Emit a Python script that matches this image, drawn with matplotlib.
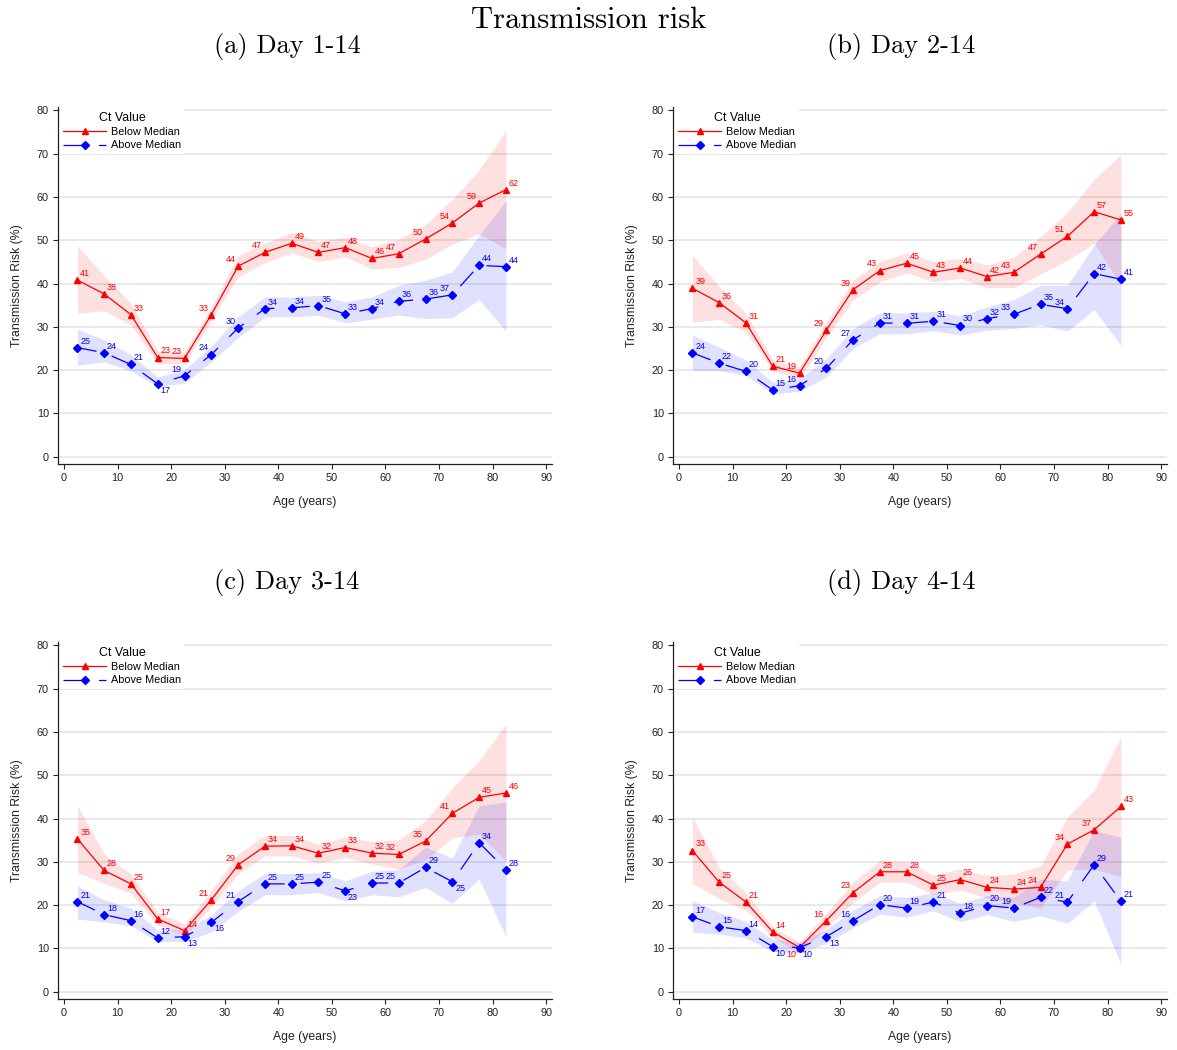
import matplotlib
matplotlib.use("Agg")
import matplotlib.pyplot as plt

plt.rcParams["font.family"] = ["Liberation Sans", "DejaVu Sans"]
plt.rcParams["lines.scale_dashes"] = False

age = [2.5, 7.5, 12.5, 17.5, 22.5, 27.5, 32.5, 37.5, 42.5, 47.5, 52.5, 57.5, 62.5, 67.5, 72.5, 77.5, 82.5]

# ---------------- (a) Day 1-14 ----------------
a_below = [40.8, 37.6, 32.8, 22.9, 22.7, 32.8, 44.0, 47.2, 49.3, 47.2, 48.3, 45.8, 46.9, 50.3, 54.0, 58.6, 61.7]
a_below_lo = [33.1, 33.7, 30.4, 21.5, 21.5, 31.4, 41.6, 44.8, 47.1, 45.1, 46.2, 43.4, 43.7, 45.6, 49.1, 51.5, 48.0]
a_below_hi = [48.8, 41.8, 35.4, 24.4, 24.2, 34.5, 46.4, 49.3, 51.8, 49.7, 50.7, 48.5, 50.3, 53.6, 59.4, 66.3, 75.3]
a_above = [25.2, 24.0, 21.3, 16.8, 18.7, 23.6, 29.7, 34.2, 34.4, 34.9, 33.0, 34.2, 35.9, 36.4, 37.4, 44.2, 43.9]
a_above_lo = [21.1, 21.9, 19.8, 16.2, 17.0, 21.9, 27.5, 32.3, 32.3, 32.7, 30.9, 31.8, 32.7, 31.9, 32.1, 36.3, 29.0]
a_above_hi = [29.4, 27.0, 23.6, 18.4, 20.1, 25.5, 32.3, 36.9, 36.9, 37.3, 35.8, 36.9, 39.6, 40.8, 42.7, 51.2, 59.1]
a_below_pos = ["r", "r", "r", "r", "l", "l", "l", "l", "r", "r", "r", "r", "l", "l", "l", "l", "r"]
a_above_pos = ["r", "r", "r", "br", "l", "l", "l", "r", "r", "r", "r", "r", "r", "r", "l", "r", "r"]

# ---------------- (b) Day 2-14 ----------------
b_below = [38.9, 35.6, 30.9, 20.9, 19.3, 29.2, 38.6, 43.0, 44.7, 42.6, 43.6, 41.6, 42.6, 46.8, 50.9, 56.6, 54.7]
b_below_lo = [31.1, 31.7, 28.8, 19.8, 18.0, 27.5, 36.2, 40.4, 42.5, 40.4, 41.2, 39.0, 39.1, 42.2, 45.4, 49.3, 39.6]
b_below_hi = [46.6, 39.3, 33.1, 22.3, 20.7, 31.1, 40.8, 45.1, 47.1, 45.1, 45.8, 44.3, 46.1, 50.9, 56.4, 64.1, 69.8]
b_above = [24.0, 21.6, 19.7, 15.4, 16.4, 20.4, 27.0, 30.9, 30.8, 31.3, 30.3, 31.9, 32.9, 35.2, 34.2, 42.3, 41.0]
b_above_lo = [19.9, 19.9, 18.8, 14.5, 15.1, 18.4, 25.0, 28.4, 28.4, 29.1, 28.1, 29.2, 29.6, 30.5, 29.0, 34.0, 25.7]
b_above_hi = [28.1, 25.3, 22.3, 17.2, 18.0, 22.6, 29.6, 33.2, 33.2, 33.6, 32.5, 34.6, 36.3, 39.6, 39.6, 48.9, 56.3]
b_below_pos = ["r", "r", "r", "r", "l", "l", "l", "l", "r", "r", "r", "r", "l", "l", "l", "r", "r"]
b_above_pos = ["r", "r", "r", "r", "l", "l", "l", "r", "r", "r", "r", "r", "l", "r", "l", "r", "r"]

# ---------------- (c) Day 3-14 ----------------
c_below = [35.3, 28.0, 24.9, 16.8, 14.1, 21.2, 29.3, 33.6, 33.7, 32.0, 33.3, 32.0, 31.7, 34.8, 41.2, 44.9, 45.9]
c_below_lo = [27.6, 25.0, 22.7, 15.4, 12.9, 19.5, 27.2, 31.4, 31.4, 29.7, 31.0, 29.5, 28.3, 30.5, 35.5, 36.4, 30.3]
c_below_hi = [43.0, 31.8, 27.2, 18.3, 15.6, 23.3, 31.8, 36.1, 36.1, 34.1, 35.7, 34.7, 35.1, 39.5, 47.1, 53.4, 61.9]
c_above = [20.8, 17.8, 16.4, 12.4, 12.7, 16.0, 20.8, 24.9, 24.9, 25.3, 23.3, 25.1, 25.1, 28.7, 25.4, 34.4, 28.2]
c_above_lo = [16.8, 16.1, 15.2, 11.6, 11.6, 13.8, 18.5, 22.4, 22.4, 22.9, 21.0, 22.4, 21.9, 24.1, 20.4, 26.0, 12.7]
c_above_hi = [24.5, 21.2, 19.3, 14.2, 14.4, 17.7, 23.3, 27.3, 27.3, 27.5, 25.6, 27.8, 28.2, 33.4, 30.9, 43.0, 43.8]
c_below_pos = ["r", "r", "r", "r", "r", "l", "l", "r", "r", "r", "r", "r", "l", "l", "l", "r", "r"]
c_above_pos = ["r", "r", "r", "r", "br", "br", "l", "r", "r", "r", "br", "r", "l", "r", "br", "r", "r"]

# ---------------- (d) Day 4-14 ----------------
d_below = [32.6, 25.3, 20.7, 13.8, 10.2, 16.4, 22.9, 27.7, 27.7, 24.6, 25.9, 24.1, 23.7, 24.1, 34.1, 37.4, 42.8]
d_below_lo = [25.0, 21.5, 18.8, 12.4, 9.0, 14.7, 20.6, 25.3, 25.3, 22.4, 23.5, 21.6, 20.6, 19.3, 28.1, 28.3, 26.6]
d_below_hi = [40.3, 28.7, 22.9, 14.9, 11.4, 18.1, 25.3, 30.3, 30.0, 27.0, 28.3, 26.8, 27.2, 29.1, 40.3, 46.6, 59.0]
d_above = [17.3, 15.0, 14.1, 10.4, 10.2, 12.7, 16.4, 20.1, 19.3, 20.7, 18.1, 19.9, 19.3, 21.8, 20.7, 29.3, 20.9]
d_above_lo = [13.7, 13.3, 12.4, 9.3, 9.0, 11.1, 14.8, 17.9, 17.2, 18.7, 16.2, 17.8, 16.2, 17.5, 15.8, 21.0, 6.3]
d_above_hi = [21.0, 18.3, 16.2, 12.1, 11.4, 14.4, 18.8, 22.2, 21.8, 22.9, 20.4, 22.2, 21.8, 26.0, 25.6, 37.2, 35.7]
d_below_pos = ["r", "r", "r", "r", "bl", "l", "l", "r", "r", "r", "r", "r", "r", "l", "l", "l", "r"]
d_above_pos = ["r", "r", "r", "br", "br", "br", "l", "r", "r", "r", "r", "r", "l", "r", "l", "r", "r"]

panel_titles = ["(a) Day 1-14", "(b) Day 2-14", "(c) Day 3-14", "(d) Day 4-14"]
suptitle = "Transmission risk"
legend_title = "Ct Value"
series_names = ["Below Median", "Above Median"]
xticks = [0, 10, 20, 30, 40, 50, 60, 70, 80, 90]
yticks = [0, 10, 20, 30, 40, 50, 60, 70, 80]

panels = [
    (a_below, a_below_lo, a_below_hi, a_above, a_above_lo, a_above_hi, a_below_pos, a_above_pos),
    (b_below, b_below_lo, b_below_hi, b_above, b_above_lo, b_above_hi, b_below_pos, b_above_pos),
    (c_below, c_below_lo, c_below_hi, c_above, c_above_lo, c_above_hi, c_below_pos, c_above_pos),
    (d_below, d_below_lo, d_below_hi, d_above, d_above_lo, d_above_hi, d_below_pos, d_above_pos),
]

W, H = 1177, 1050
fig = plt.figure(figsize=(W / 100, H / 100), dpi=100)

ax_px = [(58, 107), (673, 107), (58, 642), (673, 642)]  # left, top in px
AW, AH = 494, 357
title_px = [(287, 46), (901, 46), (287, 582), (901, 582)]

RED = "#ff0000"
BLUE = "#0000ff"
offs = {"r": ((2, 1.5), "left", "bottom"), "l": ((-2, 1.5), "right", "bottom"),
        "br": ((2, -1.5), "left", "top"), "bl": ((-2, -1.5), "right", "top")}


def put_labels(ax, xs, ys, pos, color):
    for x, y, p in zip(xs, ys, pos):
        (dx, dy), ha, va = offs[p]
        ax.annotate(f"{y:.0f}", (x, y), xytext=(dx, dy), textcoords="offset points",
                    ha=ha, va=va, fontsize=6.5, color=color, zorder=6)


for i, (bl, bllo, blhi, ab, ablo, abhi, blpos, abpos) in enumerate(panels):
    left, top = ax_px[i]
    ax = fig.add_axes([left / W, 1 - (top + AH) / H, AW / W, AH / H])
    ax.set_xlim(-1.12, 91.1)
    ax.set_ylim(-1.7, 80.8)
    ax.fill_between(age, bllo, blhi, color=RED, alpha=0.12, lw=0, zorder=1)
    ax.fill_between(age, ablo, abhi, color=BLUE, alpha=0.12, lw=0, zorder=1)
    ax.plot(age, bl, color=RED, lw=0.9, marker="^", ms=4.5, zorder=4, label=series_names[0])
    ax.plot(age, ab, color=BLUE, lw=0.9, marker="D", ms=4.2, dashes=(14, 11.5), zorder=4,
            label=series_names[1])
    put_labels(ax, age, bl, blpos, RED)
    put_labels(ax, age, ab, abpos, BLUE)

    ax.set_xticks(xticks)
    ax.set_yticks(yticks)
    ax.yaxis.grid(True, color="#e3e3e3", lw=1.1, zorder=0)
    ax.set_axisbelow(True)
    for s in ["top", "right"]:
        ax.spines[s].set_visible(False)
    for s in ["left", "bottom"]:
        ax.spines[s].set_linewidth(0.9)
        ax.spines[s].set_color("#222222")
    ax.tick_params(direction="out", length=3.5, width=0.8, labelsize=7.8, pad=3,
                   color="#222222", labelcolor="#222222")
    ax.set_xlabel("Age (years)", fontsize=8.8, labelpad=9, color="#222222")
    ax.set_ylabel("Transmission Risk (%)", fontsize=8.8, labelpad=10, color="#222222")

    leg = ax.legend(loc="upper left", bbox_to_anchor=(0.0, 1.0), fontsize=7.8,
                    title=legend_title, title_fontsize=8.9, frameon=True,
                    facecolor="white", edgecolor="white", framealpha=1.0, fancybox=False,
                    handlelength=4.0, handletextpad=0.45, borderpad=0.3,
                    labelspacing=0.3, borderaxespad=0.15, numpoints=1)
    leg.get_frame().set_linewidth(0)
    leg.set_zorder(7)

    tx, ty = title_px[i]
    fig.text(tx / W, 1 - ty / H, panel_titles[i], ha="center",
             va="center", fontsize=19, family="cmr10")

fig.text(0.5, 1 - 20 / H, suptitle, ha="center", va="center", fontsize=22, family="cmr10")

fig.savefig("out.png", dpi=100)
